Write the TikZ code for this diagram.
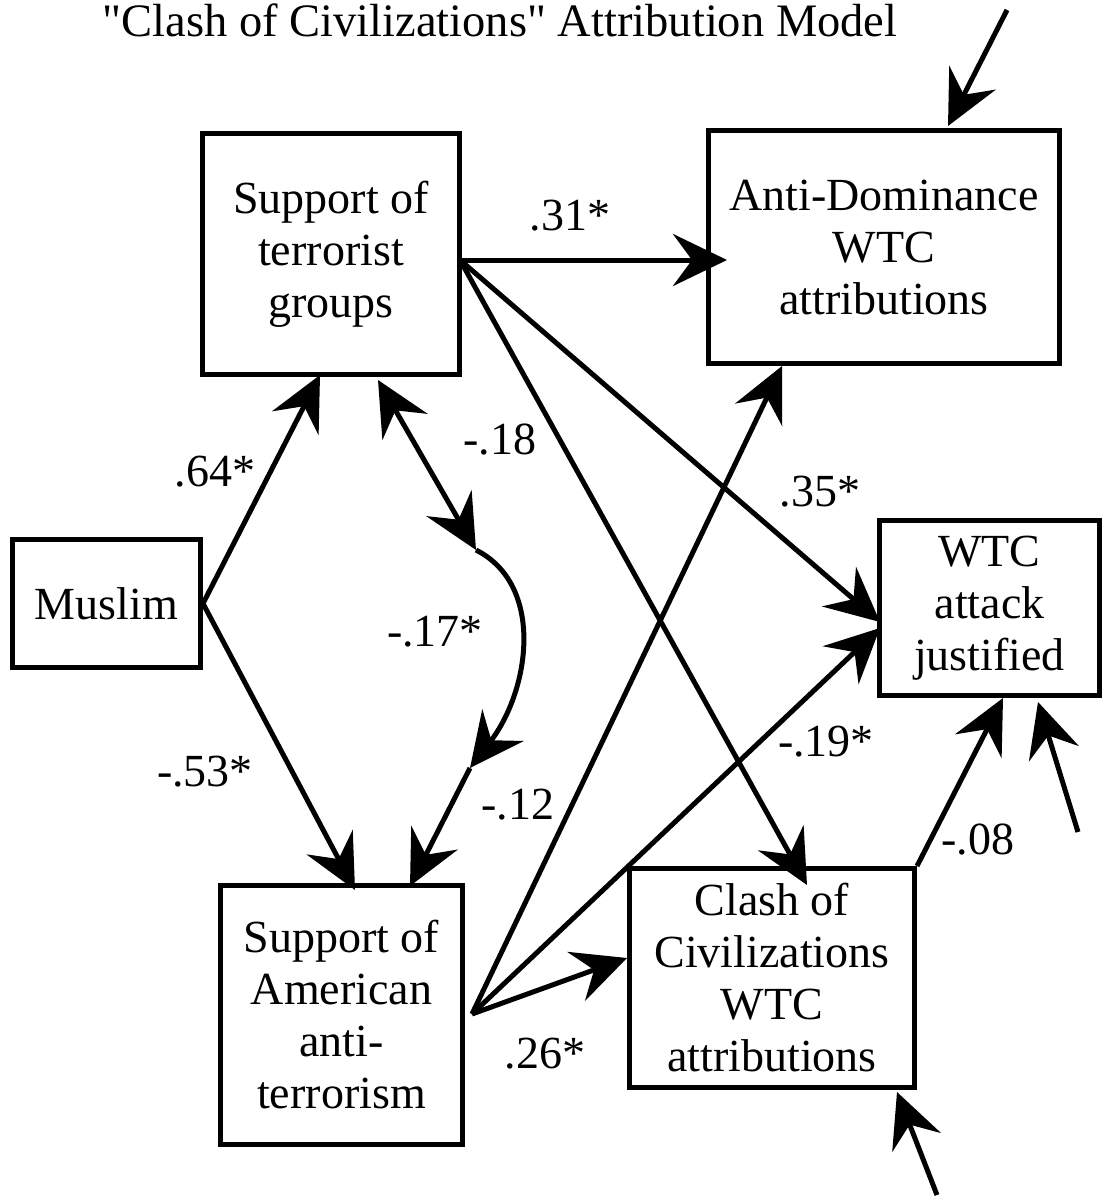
\documentclass[tikz,border=0pt]{standalone}
\usepackage{fontspec}
\setmainfont{Liberation Serif}[Ligatures=TeXOff]
\usetikzlibrary{arrows.meta}
\tikzset{
  box/.style={draw, line width=5pt, align=center, inner sep=0pt, font=\fontsize{46}{52}\selectfont},
  lbl/.style={font=\fontsize{46}{52}\selectfont, inner sep=0pt},
  hd/.tip={Stealth[length=54pt,width=52pt,inset=19pt]},
  con/.style={line width=5pt, -hd},
  dcon/.style={line width=5pt, hd-hd},
}
\begin{document}
\begin{tikzpicture}[x=1pt,y=-1pt]
\useasboundingbox (0,0) rectangle (1107,1198);
% title
\node[lbl, anchor=base, font=\fontsize{46.5}{52}\selectfont] (title) at (500,37) {"Clash of Civilizations" Attribution Model};
% boxes
\node[box, minimum width=257pt, minimum height=241pt] (terr) at (331,254) {Support of\\terrorist\\groups};
\node[box, minimum width=351pt, minimum height=233pt] (anti) at (884,247) {Anti-Dominance\\WTC\\attributions};
\node[box, minimum width=188pt, minimum height=128pt] (mus) at (106.5,603.5) {Muslim};
\node[box, minimum width=220pt, minimum height=175pt] (just) at (989.5,608) {WTC\\attack\\justified};
\node[box, minimum width=285pt, minimum height=219pt] (clash) at (772,978) {Clash of\\Civilizations\\WTC\\attributions};
\node[box, minimum width=242pt, minimum height=259pt] (amer) at (341.5,1015) {Support of\\American\\anti-\\terrorism};
% connector end points
\coordinate (sT) at (460,260);
\coordinate (sA) at (472,1014);
\coordinate (tTA) at (727,260);
\coordinate (tTJ) at (880,622);
\coordinate (tTC) at (807,885);
\coordinate (tAA) at (782,366);
\coordinate (tAJ) at (880,628);
\coordinate (tAC) at (627,958);
\coordinate (tMT) at (320,375);
\coordinate (tMA) at (355,890);
\coordinate (dT) at (378,380);
\coordinate (dU) at (476,550);
\coordinate (dL) at (470,768);
\coordinate (dA) at (410,886);
\coordinate (sC) at (917,866);
\coordinate (tCJ) at (1003,698);
\coordinate (e1s) at (1007,10);
\coordinate (e1t) at (948,126);
\coordinate (e2s) at (1078,832);
\coordinate (e2t) at (1038,702);
\coordinate (e3s) at (937,1195);
\coordinate (e3t) at (897,1092);
% connectors
\draw[con] (mus.east) -- (tMT);
\draw[con] (mus.east) -- (tMA);
\draw[con] (sT) -- (tTA);
\draw[con] (sT) -- (tTJ);
\draw[con] (sT) -- (tTC);
\draw[con] (sA) -- (tAA);
\draw[con] (sA) -- (tAJ);
\draw[con] (sA) -- (tAC);
\draw[con] (sC) -- (tCJ);
\draw[dcon] (dT) -- (dU);
\draw[con] (dU) .. controls (545,585) and (530,690) .. (dL);
\draw[con] (dL) -- (dA);
\draw[con] (e1s) -- (e1t);
\draw[con] (e2s) -- (e2t);
\draw[con] (e3s) -- (e3t);
% labels
\node[lbl] (l31) at (570,216) {.31*};
\node[lbl] (l64) at (215,472) {.64*};
\node[lbl] (l18) at (500,440) {-.18};
\node[lbl] (l35) at (820,492) {.35*};
\node[lbl] (l17) at (435,632) {-.17*};
\node[lbl] (l53) at (205,772) {-.53*};
\node[lbl] (l12) at (518,805) {-.12};
\node[lbl] (l19) at (826,742) {-.19*};
\node[lbl] (l08) at (978,840) {-.08};
\node[lbl] (l26) at (545,1054) {.26*};
\end{tikzpicture}
\end{document}
